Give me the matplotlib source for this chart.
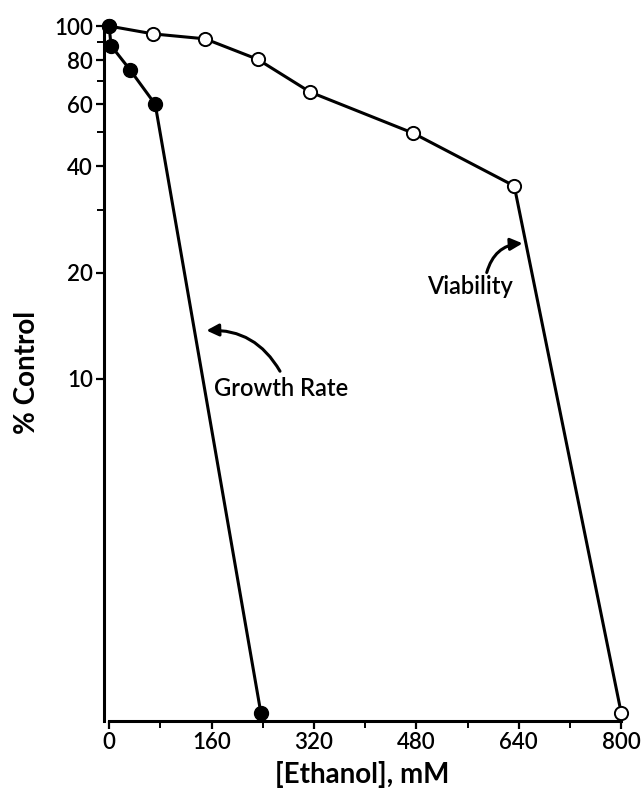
import matplotlib
matplotlib.use("Agg")
import matplotlib.pyplot as plt
from matplotlib.ticker import FixedLocator, NullFormatter

plt.rcParams['font.family'] = ['Lato', 'DejaVu Sans']

# Data
via_x = [0, 69, 150, 232, 314, 475, 633, 800]
via_y = [100, 95, 92, 80.5, 65, 49.7, 35.2, 1.13]
gr_x = [0, 3, 33, 72, 237]
gr_y = [100, 88, 75, 60, 1.13]

xticks = [0, 160, 320, 480, 640, 800]
xminor = [80, 240, 400, 560, 720]
yticks = [10, 20, 40, 60, 80, 100]
yminor = [30, 50, 70, 90]

fig = plt.figure(figsize=(6.44, 7.97), dpi=100)
ax = fig.add_axes([0.1615, 0.0954, 0.803, 0.8757])

ax.plot(via_x, via_y, '-', color='black', lw=2.2, marker='o', ms=9.5,
        mfc='white', mec='black', mew=1.4, clip_on=False, zorder=3)
ax.plot(gr_x, gr_y, '-', color='black', lw=2.2, marker='o', ms=10,
        mfc='black', mec='black', clip_on=False, zorder=4)

ax.set_yscale('log')
ax.set_xlim(-8, 800)
ax.set_ylim(1.07, 102)

ax.spines['top'].set_visible(False)
ax.spines['right'].set_visible(False)
for s in ('left', 'bottom'):
    ax.spines[s].set_linewidth(2.2)
ax.spines['bottom'].set_bounds(0, 800)

ax.xaxis.set_major_locator(FixedLocator(xticks))
ax.xaxis.set_minor_locator(FixedLocator(xminor))
ax.set_xticklabels([str(v) for v in xticks])
ax.yaxis.set_major_locator(FixedLocator(yticks))
ax.yaxis.set_minor_locator(FixedLocator(yminor))
ax.yaxis.set_minor_formatter(NullFormatter())
ax.set_yticklabels([str(v) for v in yticks])

ax.tick_params(axis='both', which='major', direction='out', length=6,
               width=1.6, labelsize=16, pad=2)
ax.tick_params(axis='both', which='minor', direction='out', length=5,
               width=1.4)
for lab in ax.get_xticklabels() + ax.get_yticklabels():
    lab.set_fontweight('semibold')

ax.set_ylabel('% Control', fontsize=20, labelpad=10, fontweight='bold')
ax.set_xlabel('[Ethanol], mM', fontsize=20, labelpad=6, fontweight='bold')

ax.text(0.625, 0.622, 'Viability', transform=ax.transAxes, fontsize=17,
        ha='left', va='center', fontweight='semibold')
ax.annotate('', xy=(646, 24.2), xytext=(590, 20.0),
            arrowprops=dict(arrowstyle='-|>', color='black', lw=2.2,
                            mutation_scale=18, shrinkA=0, shrinkB=0,
                            connectionstyle='arc3,rad=-0.35'))

ax.text(0.213, 0.477, 'Growth Rate', transform=ax.transAxes, fontsize=17,
        ha='left', va='center', fontweight='semibold')
ax.annotate('', xy=(152, 13.7), xytext=(267, 10.5),
            arrowprops=dict(arrowstyle='-|>', color='black', lw=2.2,
                            mutation_scale=18, shrinkA=0, shrinkB=0,
                            connectionstyle='arc3,rad=0.3'))

fig.savefig('out.png', dpi=100)
